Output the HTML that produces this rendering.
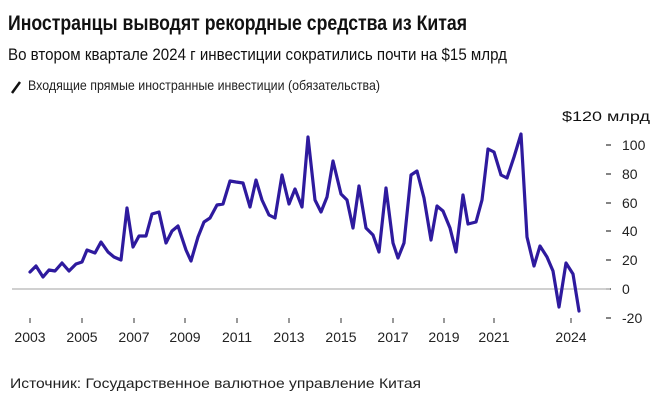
<!DOCTYPE html>
<html><head><meta charset="utf-8"><style>html,body{margin:0;padding:0;background:#fff}svg{display:block}</style></head>
<body>
<svg width="653" height="400" viewBox="0 0 653 400" xmlns="http://www.w3.org/2000/svg" font-family="'Liberation Sans', sans-serif">
<text x="8" y="30" font-size="21" font-weight="bold" fill="#111" textLength="459" lengthAdjust="spacingAndGlyphs">Иностранцы выводят рекордные средства из Китая</text>
<text x="8" y="60" font-size="17" fill="#111" textLength="499" lengthAdjust="spacingAndGlyphs">Во втором квартале 2024 г инвестиции сократились почти на $15 млрд</text>
<line x1="12" y1="93" x2="20" y2="82" stroke="#111" stroke-width="2.5"/>
<text x="28" y="90" font-size="14" fill="#222" textLength="352" lengthAdjust="spacingAndGlyphs">Входящие прямые иностранные инвестиции (обязательства)</text>
<text x="562" y="121" font-size="14" fill="#111" textLength="88" lengthAdjust="spacingAndGlyphs">$120 млрд</text>
<g font-size="14" fill="#222">
<text x="622" y="150">100</text><text x="622" y="179">80</text><text x="622" y="208">60</text><text x="622" y="236">40</text><text x="622" y="265">20</text><text x="622" y="294">0</text><text x="622" y="323">-20</text>
</g>
<g stroke="#333" stroke-width="1.2">
<line x1="606" y1="145" x2="611" y2="145"/><line x1="606" y1="174" x2="611" y2="174"/><line x1="606" y1="203" x2="611" y2="203"/><line x1="606" y1="231" x2="611" y2="231"/><line x1="606" y1="260" x2="611" y2="260"/><line x1="606" y1="289" x2="611" y2="289"/><line x1="606" y1="318" x2="611" y2="318"/>
</g>
<line x1="12" y1="289" x2="610" y2="289" stroke="#b5b5b5" stroke-width="1.3"/>
<g stroke="#333" stroke-width="1">
<line x1="30" y1="318" x2="30" y2="323"/><line x1="82" y1="318" x2="82" y2="323"/><line x1="134" y1="318" x2="134" y2="323"/><line x1="185" y1="318" x2="185" y2="323"/><line x1="237" y1="318" x2="237" y2="323"/><line x1="289" y1="318" x2="289" y2="323"/><line x1="341" y1="318" x2="341" y2="323"/><line x1="393" y1="318" x2="393" y2="323"/><line x1="444" y1="318" x2="444" y2="323"/><line x1="494" y1="318" x2="494" y2="323"/><line x1="571" y1="318" x2="571" y2="323"/>
</g>
<g font-size="14" fill="#222" text-anchor="middle">
<text x="30" y="342">2003</text><text x="82" y="342">2005</text><text x="134" y="342">2007</text><text x="185" y="342">2009</text><text x="237" y="342">2011</text><text x="289" y="342">2013</text><text x="341" y="342">2015</text><text x="393" y="342">2017</text><text x="444" y="342">2019</text><text x="494" y="342">2021</text><text x="571" y="342">2024</text>
</g>
<polyline fill="none" stroke="#2e1a9e" stroke-width="3.2" stroke-linejoin="round" stroke-linecap="round" points="30,272 36,266 43,277 49,270 55,271 62,263 69,271 76,264 82,262 87,250 95,253 101,242 108,252 114,257 121,260 127,208 133,247 139,236 146,236 152,214 159,212 166,243 172,231 178,226 186,250 191,261 198,237 204,222 210,218 217,205 223,204 230,181 236,182 243,183 250,207 256,180 262,200 269,215 275,218 282,175 289,204 295,189 302,207 308,137 315,200 321,212 327,197 333,161 341,194 347,200 353,228 359,186 366,228 373,235 379,252 386,188 393,243 398,258 404,243 411,175 417,171 424,198 431,240 437,206 443,211 450,228 456,252 463,195 468,224 476,222 482,200 488,149 494,152 501,175 507,178 514,157 521,134 527,237 534,266 540,246 547,257 553,271 559,307 566,263 573,274 579,311"/>
<text x="10" y="388" font-size="14" fill="#222" textLength="411" lengthAdjust="spacingAndGlyphs">Источник: Государственное валютное управление Китая</text>
</svg>
</body></html>
